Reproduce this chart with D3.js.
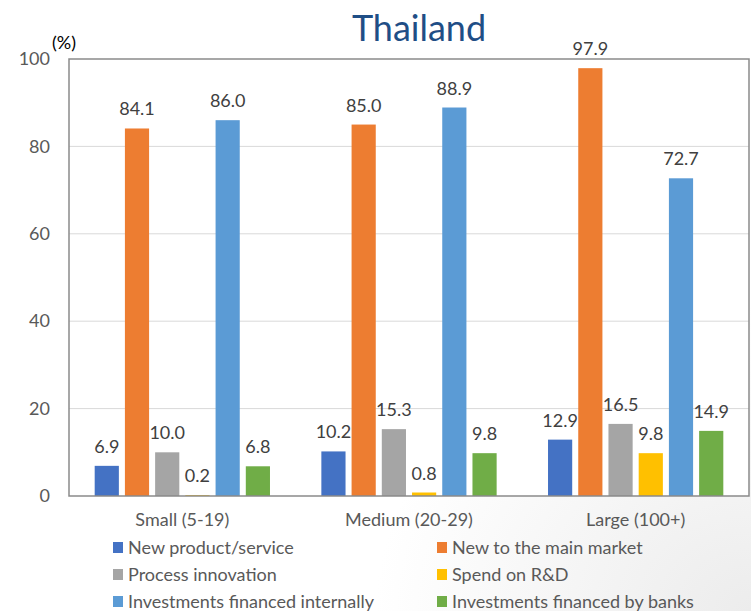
<!DOCTYPE html>
<html>
<head>
<meta charset="utf-8">
<script src="https://cdn.jsdelivr.net/npm/d3@7"></script>
<style>
  body { margin: 0; background: #fff; }
  svg text { font-family: Lato, "Open Sans", sans-serif; }
</style>
</head>
<body>
<div id="canvas"></div>
<script>
const categories = ["Small (5-19)", "Medium (20-29)", "Large (100+)"];
const seriesNames = [
    "New product/service",
    "New to the main market",
    "Process innovation",
    "Spend on R&D",
    "Investments financed internally",
    "Investments financed by banks"
];
const newProduct = [6.9, 10.2, 12.9];
const newMarket = [84.1, 85.0, 97.9];
const processInnov = [10.0, 15.3, 16.5];
const spendRD = [0.2, 0.8, 9.8];
const financedInternally = [86.0, 88.9, 72.7];
const financedBanks = [6.8, 9.8, 14.9];
const yTicks = [0, 20, 40, 60, 80, 100];

const colors = ["#4472C4", "#ED7D31", "#A5A5A5", "#FFC000", "#5B9BD5", "#70AD47"];
const seriesValues = [newProduct, newMarket, processInnov, spendRD, financedInternally, financedBanks];

const width = 751;
const height = 611;
const margin = { top: 59, left: 69, bottom: 115, right: 2 };
const iwidth = width - margin.left - margin.right;
const iheight = height - margin.top - margin.bottom;

const svg = d3.select("#canvas").append("svg")
    .attr("width", width)
    .attr("height", height);

// faint grey shading toward the lower right corner
const defs = svg.append("defs");
const grad = defs.append("radialGradient")
    .attr("id", "bg")
    .attr("cx", "1").attr("cy", "1").attr("r", "0.5");
grad.append("stop").attr("offset", "0").attr("stop-color", "#ececec");
grad.append("stop").attr("offset", "1").attr("stop-color", "#ffffff");
svg.append("rect").attr("width", width).attr("height", height).attr("fill", "url(#bg)");

svg.append("text")
    .attr("x", 419)
    .attr("y", 41)
    .attr("text-anchor", "middle")
    .style("font-size", "36px")
    .style("fill", "#1f4e86")
    .text("Thailand");

const g = svg.append("g")
    .attr("transform", `translate(${margin.left},${margin.top})`);

g.append("rect")
    .attr("width", iwidth)
    .attr("height", iheight)
    .attr("fill", "#fff");

const x0 = d3.scaleBand()
    .domain(categories)
    .range([0, iwidth]);

const x1 = d3.scaleBand()
    .domain(seriesNames)
    .range([0, x0.bandwidth()])
    .paddingInner(0.2)
    .paddingOuter(0.85);

const y = d3.scaleLinear()
    .domain([0, 100])
    .range([iheight, 0]);

// gridlines
g.selectAll(".grid")
    .data(yTicks.filter(d => d > 0 && d < 100))
    .enter().append("line")
    .attr("x1", 0).attr("x2", iwidth)
    .attr("y1", d => y(d)).attr("y2", d => y(d))
    .attr("stroke", "#d9d9d9")
    .attr("stroke-width", 1);

const rows = [];
categories.forEach((c, i) => {
    seriesNames.forEach((s, j) => {
        rows.push({ cat: c, series: s, value: seriesValues[j][i], color: colors[j] });
    });
});

g.selectAll(".bar")
    .data(rows)
    .enter().append("rect")
    .attr("class", "bar")
    .attr("x", d => x0(d.cat) + x1(d.series))
    .attr("y", d => y(d.value))
    .attr("width", x1.bandwidth())
    .attr("height", d => iheight - y(d.value))
    .attr("fill", d => d.color);

g.selectAll(".label")
    .data(rows)
    .enter().append("text")
    .attr("class", "label")
    .attr("x", d => x0(d.cat) + x1(d.series) + x1.bandwidth() / 2)
    .attr("y", d => y(d.value) - 13)
    .attr("text-anchor", "middle")
    .style("font-size", "18px")
    .style("fill", "#404040")
    .text(d => d.value.toFixed(1));

// plot frame
g.append("rect")
    .attr("width", iwidth)
    .attr("height", iheight)
    .attr("fill", "none")
    .attr("stroke", "#8a8a8a")
    .attr("stroke-width", 1.5);

const yAxis = g.append("g")
    .call(d3.axisLeft(y).tickValues(yTicks).tickSize(0).tickPadding(19));
yAxis.select(".domain").remove();
yAxis.selectAll("text")
    .style("font-size", "18px")
    .style("fill", "#595959")
    .style("font-family", "Lato, sans-serif");

const xAxis = g.append("g")
    .attr("transform", `translate(0,${iheight})`)
    .call(d3.axisBottom(x0).tickSize(0).tickPadding(17));
xAxis.select(".domain").remove();
xAxis.selectAll("text")
    .style("font-size", "18px")
    .style("fill", "#595959")
    .style("font-family", "Lato, sans-serif");

svg.append("text")
    .attr("x", 52)
    .attr("y", 49)
    .style("font-size", "18px")
    .style("fill", "#000")
    .text("(%)");

// legend, two columns
const legend = svg.append("g");
const item = legend.selectAll(".item")
    .data(seriesNames)
    .enter().append("g")
    .attr("transform", (d, i) => `translate(${i % 2 === 0 ? 113 : 437},${542 + Math.floor(i / 2) * 27})`);
item.append("rect")
    .attr("width", 10)
    .attr("height", 11)
    .attr("fill", (d, i) => colors[i]);
item.append("text")
    .attr("x", 15)
    .attr("y", 12)
    .style("font-size", "18px")
    .style("fill", "#595959")
    .text(d => d);
</script>
</body>
</html>
